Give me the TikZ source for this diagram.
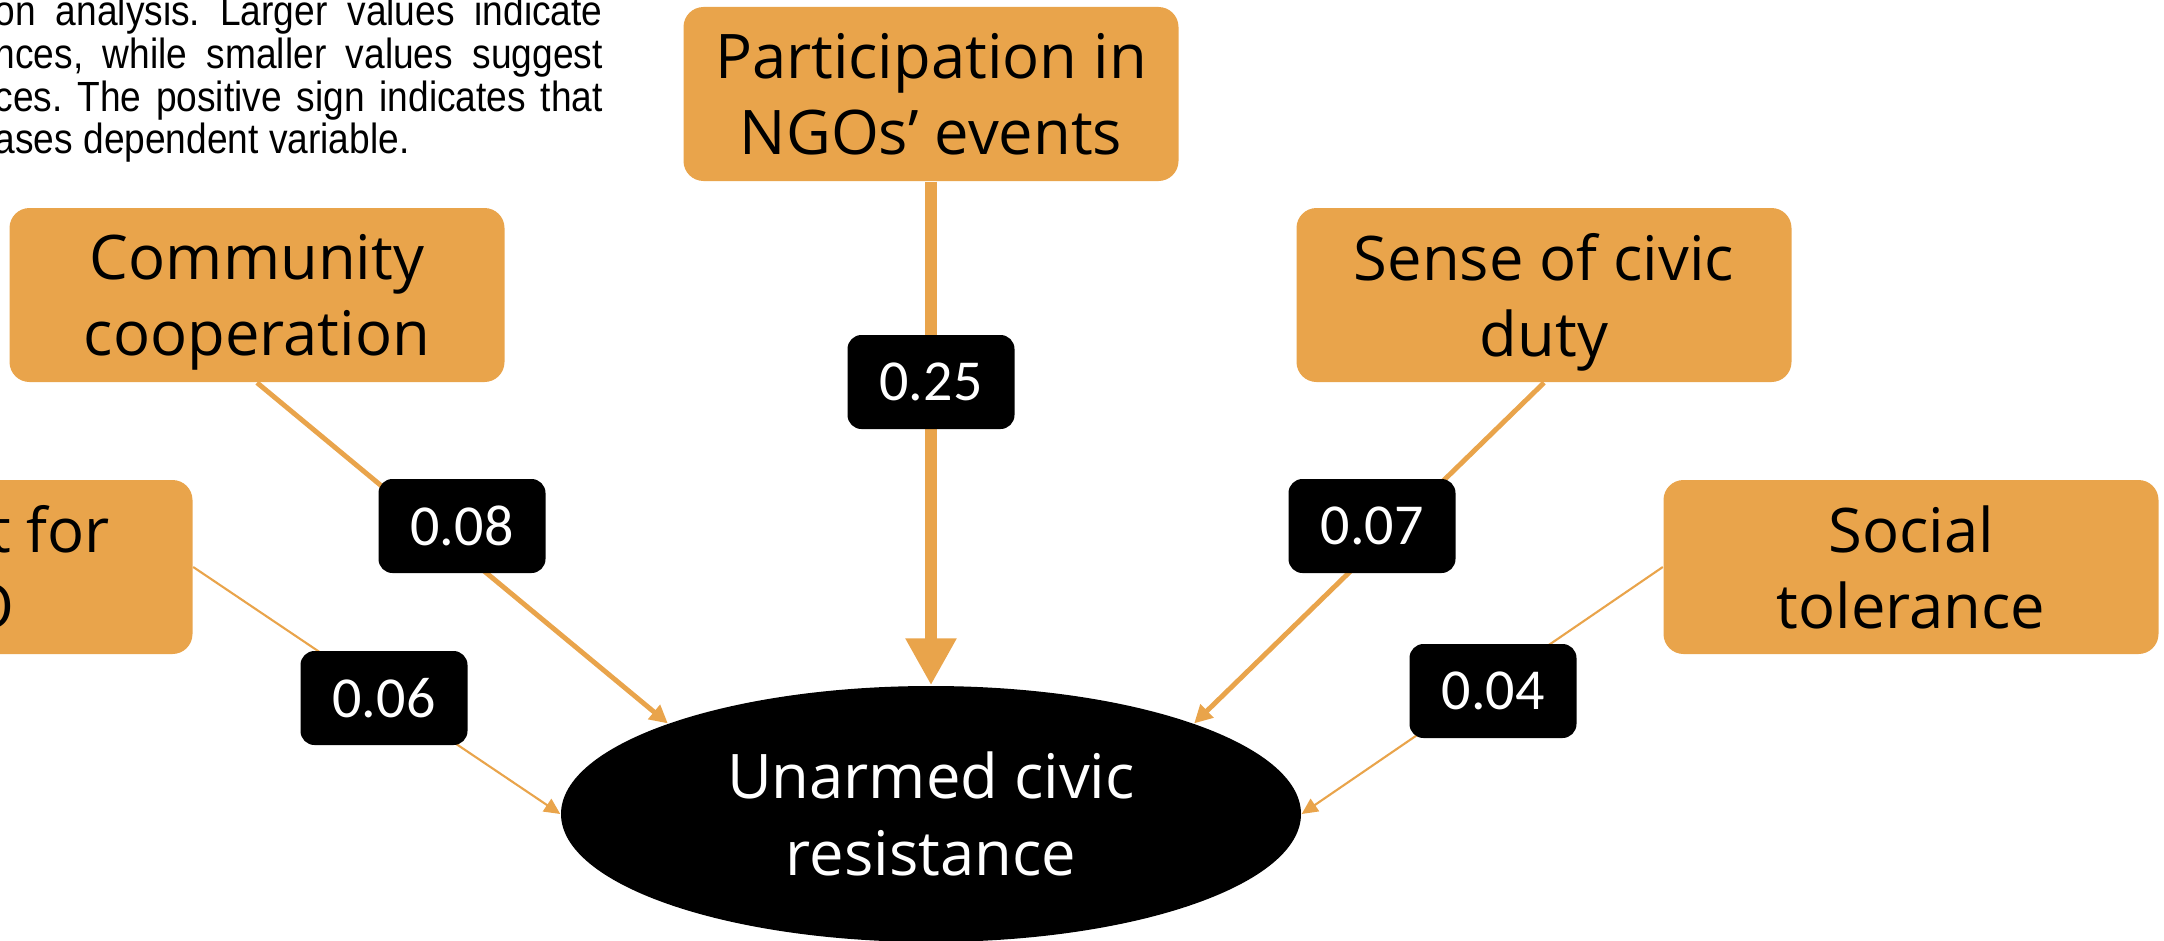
\documentclass[tikz,border=0pt]{standalone}
\usepackage{fontspec}
\setmainfont{Open Sans}
\newfontfamily\notefont[FakeStretch=0.88]{Liberation Sans}
\newfontfamily\coeffont{Carlito}
\usetikzlibrary{arrows.meta,shapes.geometric}
\definecolor{ngoorange}{HTML}{E9A44B}
\frenchspacing
\tikzset{
	factor/.style={fill=ngoorange, rounded corners=0.2cm, minimum width=4.95cm, minimum height=1.74cm, inner sep=0pt, align=center, text depth=-0.26cm, font=\fontsize{17.5}{21.8}\selectfont},
	coef/.style={fill=black, text=white, rounded corners=0.14cm, minimum width=1.67cm, minimum height=0.94cm, inner sep=0pt, font=\coeffont\fontsize{16.5}{20}\selectfont},
	effect/.style={draw=ngoorange, line width=1.4pt, -{Triangle[width=0.18cm, length=0.18cm]}},
	noteline/.style={anchor=base west, inner sep=0pt, font=\notefont\fontsize{12}{12}\selectfont}
}
\begin{document}
\begin{tikzpicture}
	\useasboundingbox (0,0) rectangle (21.64,9.40);
	\clip (0,0) rectangle (21.64,9.40);
	% note, cut off at the left edge
	\node[noteline] (note1) at (-0.06,9.14) {\makebox[6.08cm][s]{on analysis. Larger values indicate}};
	\node[noteline] (note2) at (-0.06,8.715) {\makebox[6.08cm][s]{nces, while smaller values suggest}};
	\node[noteline] (note3) at (-0.06,8.29) {\makebox[6.08cm][s]{ces. The positive sign indicates that}};
	\node[noteline] (note4) at (-0.06,7.865) {ases dependent variable.};
	% factors
	\node[factor] (events) at (9.31,8.46) {Participation in\\NGOs’ events};
	\node[factor] (coop) at (2.57,6.45) {Community\\cooperation};
	\node[factor] (duty) at (15.44,6.45) {Sense of civic\\duty};
	\node[factor] (support) at (-0.55,3.73) {Support for\\NGO};
	\node[factor] (tolerance) at (19.11,3.73) {Social\\tolerance};
	\node[ellipse, fill=black, text=white, minimum width=7.40cm, minimum height=2.56cm, inner sep=0pt, align=center, font=\fontsize{17.5}{21.8}\selectfont] (resist) at (9.31,1.26) {Unarmed civic\\resistance};
	% paths
	\draw[effect, line width=3.6pt, -{Triangle[width=0.48cm, length=0.47cm]}] (events) -- (resist);
	\draw[effect] (coop.south) -- (resist.161);
	\draw[effect] (duty.south) -- (resist.19);
	\draw[effect, line width=0.6pt, -{Triangle[width=0.15cm, length=0.16cm]}] (support.east) -- (resist.west);
	\draw[effect, line width=0.6pt, -{Triangle[width=0.15cm, length=0.16cm]}] (tolerance.west) -- (resist.east);
	% coefficients
	\node[coef] (c25) at (9.31,5.58) {0.25};
	\node[coef] (c08) at (4.62,4.14) {0.08};
	\node[coef] (c07) at (13.72,4.14) {0.07};
	\node[coef] (c06) at (3.84,2.42) {0.06};
	\node[coef] (c04) at (14.93,2.49) {0.04};
\end{tikzpicture}
\end{document}
